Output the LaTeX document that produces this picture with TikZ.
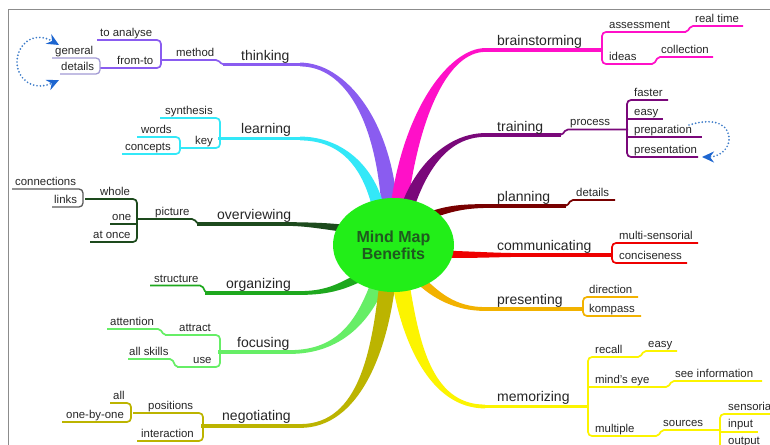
\documentclass[tikz,border=0pt]{standalone}
\usepackage{fontspec}
\setmainfont{Liberation Sans}
\usetikzlibrary{calc,shapes.geometric,arrows.meta}
\definecolor{txt}{HTML}{262626}
\definecolor{ctr}{HTML}{22EE18}
\definecolor{ctrtxt}{HTML}{1F5A1F}
\definecolor{thk}{HTML}{8A5CF0}
\definecolor{thkb}{HTML}{A29AD4}
\definecolor{lrn}{HTML}{33E8F8}
\definecolor{ovc}{HTML}{1D4A1D}
\definecolor{ovcb}{HTML}{5A5A5A}
\definecolor{org}{HTML}{1EA81E}
\definecolor{foc}{HTML}{66EE66}
\definecolor{neg}{HTML}{BCB400}
\definecolor{brn}{HTML}{FF10C8}
\definecolor{trn}{HTML}{7A087A}
\definecolor{pln}{HTML}{780000}
\definecolor{com}{HTML}{EE0000}
\definecolor{prs}{HTML}{F2B200}
\definecolor{mem}{HTML}{FCF400}
\definecolor{dotblue}{HTML}{3D7CC9}
\definecolor{arrblue}{HTML}{1E66D0}
\definecolor{frame}{HTML}{8C8C8C}
% tapered main branch: colour, label end, control 1, control 2, centre end, thin half width, thick half width
\newcommand\mbranch[7]{%
  \path (#2) coordinate (p0) (#3) coordinate (c1) (#4) coordinate (c2) (#5) coordinate (p3);
  \path ($(p0)!#6!90:(c1)$) coordinate (l0) ($(p0)!#6!-90:(c1)$) coordinate (r0)
        ($(p3)!#7!-90:(c2)$) coordinate (l3) ($(p3)!#7!90:(c2)$) coordinate (r3);
  \fill[#1] (l0) .. controls ($(c1)+(l0)-(p0)$) and ($(c2)+(l3)-(p3)$) .. (l3)
     -- (r3) .. controls ($(c2)+(r3)-(p3)$) and ($(c1)+(r0)-(p0)$) .. (r0) -- cycle;
}
\begin{document}
\begin{tikzpicture}[x=1pt,y=-1pt,
  sub/.style={line width=1.7pt},
  subsub/.style={line width=1.3pt},
  mainline/.style={line width=3.8pt},
  lbl/.style={anchor=base west, inner sep=0pt, text=txt, font=\fontsize{11.4}{13}\selectfont},
  mlbl/.style={anchor=base west, inner sep=0pt, text=txt, font=\fontsize{14}{16}\selectfont},
  brk/.style={rounded corners=4pt},
  stp/.style={rounded corners=2pt},
  dots/.style={dotblue, line width=1.9pt, dash pattern=on 0pt off 3.4pt, line cap=round},
  tip/.style={-{Stealth[length=12pt,width=11pt,inset=4pt,fill=arrblue,color=arrblue]}},
  twotip/.style={{Stealth[length=12pt,width=11pt,inset=4pt,fill=arrblue,color=arrblue]}-{Stealth[length=12pt,width=11pt,inset=4pt,fill=arrblue,color=arrblue]}}
]
\useasboundingbox (0,0) rectangle (770,444);
\clip (0,0) rectangle (770,444);
\fill[white] (0,0) rectangle (770,444);
\draw[frame, line width=1pt] (8,450) -- (8,10) -- (780,10);

% ---------- main tapered branches ----------
\mbranch{thk}{300,64.5}{345,64.5}{385,120}{390,215}{1.9pt}{8pt}
\mbranch{lrn}{300,138.5}{340,138.5}{370,165}{380,215}{1.9pt}{6pt}
\mbranch{ovc}{290,224}{310,224.5}{325,226}{350,229}{1.9pt}{3.6pt}
\mbranch{org}{300,293}{330,293}{345,285}{368,273}{1.9pt}{4.5pt}
\mbranch{foc}{290,352}{340,352}{365,320}{380,278}{1.9pt}{7pt}
\mbranch{neg}{300,426}{360,426}{380,350}{388,278}{1.9pt}{8pt}
\mbranch{brn}{485,50}{450,50}{410,110}{398,215}{1.9pt}{8.5pt}
\mbranch{trn}{485,135}{450,135}{420,165}{405,215}{1.9pt}{6.5pt}
\mbranch{pln}{490,206}{465,206}{450,208}{428,216}{1.9pt}{3.6pt}
\mbranch{com}{520,255}{500,255}{470,255}{440,254}{1.9pt}{3.6pt}
\mbranch{prs}{485,309}{455,309}{435,295}{418,278}{1.9pt}{4.5pt}
\mbranch{mem}{485,406.5}{430,406.5}{410,340}{400,278}{1.9pt}{8.5pt}

% ---------- centre ----------
\node[ellipse, fill=ctr, minimum width=121pt, minimum height=94pt, inner sep=0pt,
      align=center, text=ctrtxt, font=\fontsize{16}{17}\selectfont\bfseries]
      (centre) at (393.5,245) {Mind Map\\Benefits};

% ---------- thinking ----------
\draw[mainline, thk] (223,64.5) -- (301,64.5);
\draw[sub, thk, stp] (161,60) -- (218,60) -- (222,64.5) -- (228,64.5);
\draw[sub, thk, brk] (97,40) -| (161,68) -- (100,68);
\draw[subsub, thkb, brk] (52,58) -| (100,74) -- (60,74);
\node[mlbl] (thinking) at (241,60) {thinking};
\node[lbl] (method) at (176,56.5) {method};
\node[lbl] (toanalyse) at (100,36.5) {to analyse};
\node[lbl] (fromto) at (117,64.5) {from-to};
\node[lbl] (general) at (55,54.5) {general};
\node[lbl] (details1) at (61,70.5) {details};
\draw[dots, twotip]
  (59,45) .. controls (33,30) and (17,45) .. (17,62) .. controls (17,79) and (33,92) .. (59,80);

% ---------- learning ----------
\draw[mainline, lrn] (218,138.5) -- (301,138.5);
\draw[sub, lrn, brk] (160,118) -| (220,148) -- (180,148);
\draw[sub, lrn, brk] (137,137) -| (180,154) -- (122,154);
\node[mlbl] (learning) at (241,133.5) {learning};
\node[lbl] (synthesis) at (165,114.5) {synthesis};
\node[lbl] (key) at (195,144.5) {key};
\node[lbl] (words) at (141,133.5) {words};
\node[lbl] (concepts) at (125,150.5) {concepts};

% ---------- overviewing ----------
\draw[mainline, ovc] (197,224) -- (291,224);
\draw[sub, ovc, stp] (137,219) -- (194,219) -- (198,224) -- (202,224);
\draw[sub, ovc, brk] (85,199) -| (137,242) -- (90,242);
\draw[sub, ovc] (110,224) -- (137,224);
\draw[subsub, ovcb, brk] (12,189) -| (83,207) -- (52,207);
\node[mlbl] (overviewing) at (217,219) {overviewing};
\node[lbl] (picture) at (155,215.5) {picture};
\node[lbl] (whole) at (100,195.5) {whole};
\node[lbl] (one) at (112,220.5) {one};
\node[lbl] (atonce) at (93,238.5) {at once};
\node[lbl] (connections) at (15,185.5) {connections};
\node[lbl] (links) at (54,203.5) {links};

% ---------- organizing ----------
\draw[mainline, org] (205,293) -- (301,293);
\draw[sub, org, stp] (150,285.5) -- (202,285.5) -- (206,293) -- (209,293);
\node[mlbl] (organizing) at (226,288) {organizing};
\node[lbl] (structure) at (154,282) {structure};

% ---------- focusing ----------
\draw[mainline, foc] (218,352) -- (291,352);
\draw[sub, foc, brk] (165,335) -| (220,367) -- (177,367);
\draw[sub, foc, stp] (107,329) -- (160,329) -- (164,335) -- (167,335);
\draw[sub, foc, stp] (128,359) -- (172,359) -- (176,367) -- (179,367);
\node[mlbl] (focusing) at (237,347) {focusing};
\node[lbl] (attention) at (110,325.5) {attention};
\node[lbl] (attract) at (179,331.5) {attract};
\node[lbl] (allskills) at (129,355.5) {all skills};
\node[lbl] (use) at (193,363.5) {use};

% ---------- negotiating ----------
\draw[mainline, neg] (201,426) -- (301,426);
\draw[sub, neg, brk] (133,413) -| (203,441) -- (137,441);
\draw[sub, neg, brk] (110,403) -| (131,422) -- (62,422);
\node[mlbl] (negotiating) at (222,420) {negotiating};
\node[lbl] (positions) at (148,409.5) {positions};
\node[lbl] (interaction) at (141,437.5) {interaction};
\node[lbl] (all) at (113,399) {all};
\node[lbl] (onebyone) at (66,418.5) {one-by-one};

% ---------- brainstorming ----------
\draw[mainline, brn] (484,50) -- (603,50);
\draw[sub, brn, brk] (686,32) -| (602,64) -- (652,64);
\draw[sub, brn, stp] (684,32) -- (687,32) -- (691,26) -- (743,26);
\draw[sub, brn, stp] (650,64) -- (654,64) -- (658,57) -- (713,57);
\node[mlbl] (brainstorming) at (497,45.5) {brainstorming};
\node[lbl] (assessment) at (609,28.5) {assessment};
\node[lbl] (realtime) at (695,22.5) {real time};
\node[lbl] (ideas) at (609,60.5) {ideas};
\node[lbl] (collection) at (661,53.5) {collection};

% ---------- training ----------
\draw[mainline, trn] (484,135) -- (561,135);
\draw[sub, trn, stp] (558,135) -- (562,135) -- (566,129.5) -- (628,129.5);
\draw[sub, trn, brk] (668,100) -| (627,157) -- (698,157);
\draw[sub, trn] (627,119) -- (663,119);
\draw[sub, trn] (627,137) -- (702,137);
\node[mlbl] (training) at (497,131) {training};
\node[lbl] (process) at (570,125.5) {process};
\node[lbl] (faster) at (634,96.5) {faster};
\node[lbl] (easy1) at (634,115) {easy};
\node[lbl] (preparation) at (634,133.5) {preparation};
\node[lbl] (presentation) at (634,153.5) {presentation};
\draw[dots, tip] (689,125) .. controls (718,116) and (730,127) .. (729,140)
  .. controls (728,152) and (716,157) .. (702,157);

% ---------- planning ----------
\draw[mainline, pln] (484,206) -- (566,206);
\draw[sub, pln, stp] (564,206) -- (567,206) -- (571,200) -- (615,200);
\node[mlbl] (planning) at (497,201) {planning};
\node[lbl] (details2) at (576,196.5) {details};

% ---------- communicating ----------
\draw[mainline, com] (500,255) -- (613,255);
\draw[sub, com, brk] (698,243) -| (612,263) -- (687,263);
\node[mlbl] (communicating) at (497,250) {communicating};
\node[lbl] (multisens) at (619,239.5) {multi-sensorial};
\node[lbl] (conciseness) at (619,259.5) {conciseness};

% ---------- presenting ----------
\draw[mainline, prs] (484,309) -- (584,309);
\draw[sub, prs, brk] (638,297) -| (583,316) -- (641,316);
\node[mlbl] (presenting) at (497,304) {presenting};
\node[lbl] (direction) at (589,293) {direction};
\node[lbl] (kompass) at (589,312.5) {kompass};

% ---------- memorizing ----------
\draw[mainline, mem] (484,406.5) -- (589,406.5);
\draw[sub, mem, brk] (638,357) -| (588,436) -- (656,436);
\draw[sub, mem] (588,387) -- (666,387);
\draw[sub, mem, stp] (636,357) -- (640,357) -- (644,351) -- (677,351);
\draw[sub, mem, stp] (664,387) -- (668,387) -- (672,381) -- (762,381);
\draw[sub, mem, stp] (654,436) -- (658,436) -- (662,430) -- (721,430);
\draw[sub, mem, brk] (780,414) -| (720,470);
\draw[sub, mem] (720,432) -- (758,432);
\node[mlbl] (memorizing) at (497,401) {memorizing};
\node[lbl] (recall) at (595,353) {recall};
\node[lbl] (easy2) at (648,347) {easy};
\node[lbl] (mindseye) at (595,383) {mind's eye};
\node[lbl] (seeinfo) at (675,377) {see information};
\node[lbl] (multiple) at (595,432.5) {multiple};
\node[lbl] (sources) at (663,426) {sources};
\node[lbl] (sensorial) at (728,410) {sensorial};
\node[lbl] (input) at (728,427.5) {input};
\node[lbl] (output) at (728,444) {output};
\end{tikzpicture}
\end{document}
